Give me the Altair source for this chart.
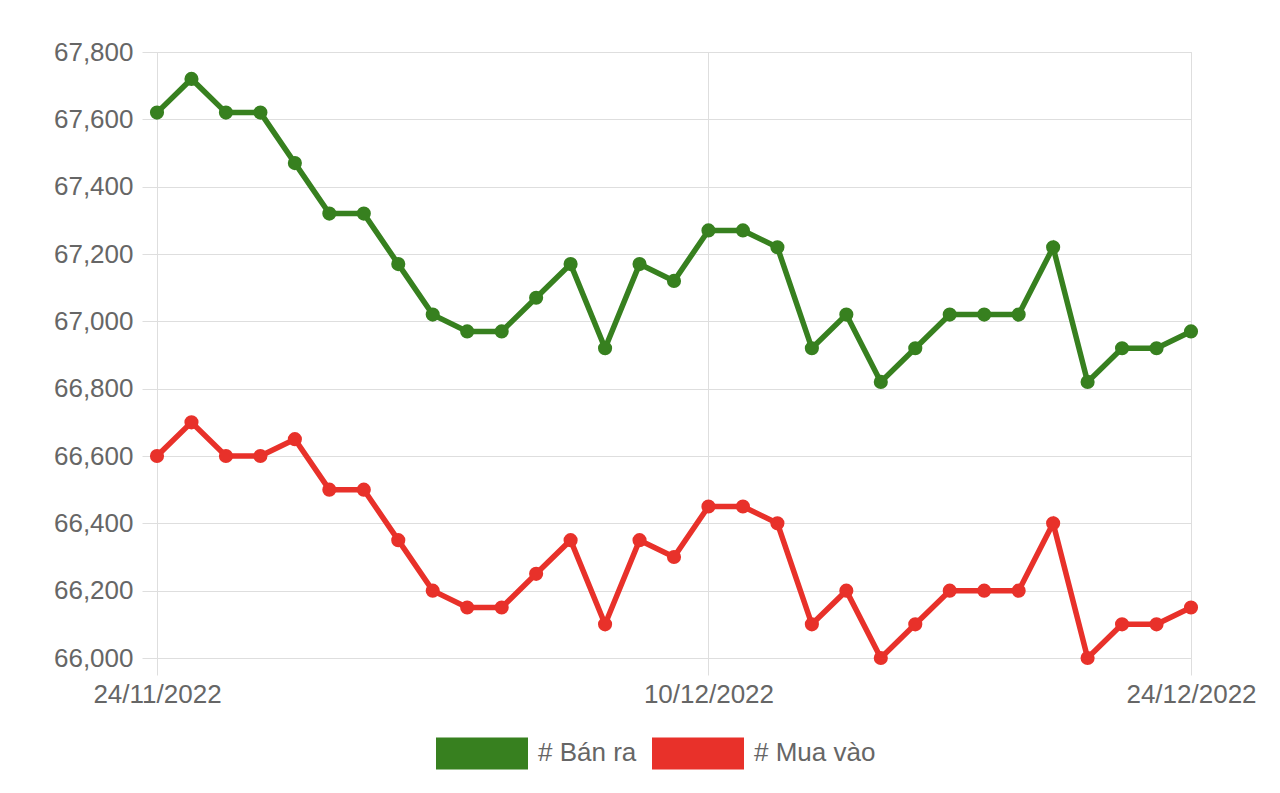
import altair as alt
import pandas as pd

dates = ["24/11/2022", "25/11/2022", "26/11/2022", "27/11/2022", "28/11/2022",
         "29/11/2022", "30/11/2022", "01/12/2022", "02/12/2022", "03/12/2022",
         "04/12/2022", "05/12/2022", "06/12/2022", "07/12/2022", "08/12/2022",
         "09/12/2022", "10/12/2022", "11/12/2022", "12/12/2022", "13/12/2022",
         "14/12/2022", "15/12/2022", "16/12/2022", "17/12/2022", "18/12/2022",
         "19/12/2022", "20/12/2022", "21/12/2022", "22/12/2022", "23/12/2022",
         "24/12/2022"]
ban_ra = [67620, 67720, 67620, 67620, 67470, 67320, 67320, 67170, 67020, 66970,
          66970, 67070, 67170, 66920, 67170, 67120, 67270, 67270, 67220, 66920,
          67020, 66820, 66920, 67020, 67020, 67020, 67220, 66820, 66920, 66920,
          66970]
mua_vao = [66600, 66700, 66600, 66600, 66650, 66500, 66500, 66350, 66200, 66150,
           66150, 66250, 66350, 66100, 66350, 66300, 66450, 66450, 66400, 66100,
           66200, 66000, 66100, 66200, 66200, 66200, 66400, 66000, 66100, 66100,
           66150]
series_names = ["# Bán ra", "# Mua vào"]
series_colors = ["#37801f", "#e8312a"]
x_tick_labels = ["24/11/2022", "10/12/2022", "24/12/2022"]
y_ticks = list(range(66000, 67801, 200))

rows = []
for d, v in zip(dates, ban_ra):
    rows.append({"date": d, "value": v, "series": series_names[0]})
for d, v in zip(dates, mua_vao):
    rows.append({"date": d, "value": v, "series": series_names[1]})
df = pd.DataFrame(rows)

FONT = "Liberation Sans"
GRID = "#dedede"
TEXT = "#666666"
FS = 26

x_enc = alt.X("date:O", sort=dates,
              scale=alt.Scale(type="point", padding=0),
              axis=alt.Axis(values=x_tick_labels, labelAngle=0, title=None,
                            grid=True, gridColor=GRID, tickColor=GRID,
                            tickSize=17, domain=False, labelPadding=6,
                            labelFontSize=FS, labelColor=TEXT, labelFont=FONT))
y_enc = alt.Y("value:Q",
              scale=alt.Scale(domain=[66000, 67800], zero=False, nice=False),
              axis=alt.Axis(values=y_ticks, format=",.0f", title=None,
                            grid=True, gridColor=GRID, tickColor=GRID,
                            tickSize=15, domain=False, labelPadding=9,
                            labelFontSize=FS, labelColor=TEXT, labelFont=FONT))

box = "M-1,-0.348L1,-0.348L1,0.348L-1,0.348Z"

lines = alt.Chart(df).mark_line(strokeWidth=5.5).encode(
    x=x_enc, y=y_enc,
    stroke=alt.Stroke("series:N",
                      scale=alt.Scale(domain=series_names, range=series_colors),
                      legend=None),
    detail="series:N",
)
points = alt.Chart(df).mark_point(filled=True, size=200, opacity=1).encode(
    x=x_enc, y=y_enc,
    color=alt.Color("series:N",
                    scale=alt.Scale(domain=series_names, range=series_colors),
                    legend=alt.Legend(orient="none", legendX=279, legendY=655,
                                      direction="horizontal", title=None,
                                      symbolType=box, symbolSize=8464,
                                      symbolStrokeWidth=0, symbolOpacity=1,
                                      labelFontSize=FS, labelColor=TEXT,
                                      labelFont=FONT, labelOffset=10,
                                      columnPadding=15, padding=0)),
)

chart = alt.layer(lines, points).resolve_scale(
    color="independent", stroke="independent"
).properties(
    width=1034, height=606,
    autosize=alt.AutoSizeParams(type="none"),
    padding={"left": 149, "top": 44, "right": 80, "bottom": 127},
).configure_view(stroke=None).configure(background="white")

chart.save("out.html", embed_options={"renderer": "svg", "actions": False})
